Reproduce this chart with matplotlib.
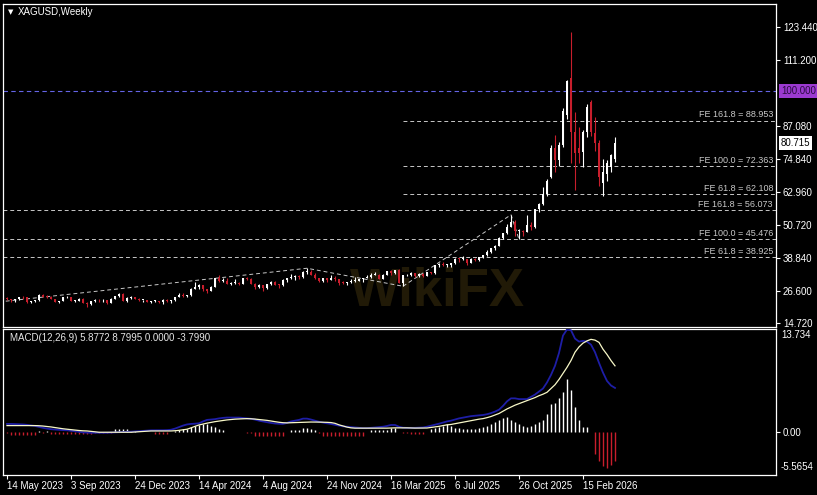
import numpy as np
import pandas as pd
import matplotlib
matplotlib.use('Agg')
import matplotlib.pyplot as plt

plt.rcParams['font.family'] = ['Liberation Sans', 'DejaVu Sans']

# XAGUSD weekly bars, first bar 14 May 2023
opens = [23.9, 23.6, 23.1, 23.6, 24.3, 24.2, 22.4, 22.8, 23.1, 25.0,
         24.5, 24.3, 23.6, 22.7, 22.8, 24.2, 24.2, 23.0, 23.0, 23.7,
         22.3, 21.9, 22.8, 23.4, 23.1, 23.2, 22.3, 23.8, 24.6, 25.6,
         23.0, 24.0, 24.2, 23.8, 23.2, 23.2, 22.6, 22.8, 22.8, 22.6,
         23.4, 22.9, 23.1, 24.3, 25.2, 24.7, 25.0, 27.3, 28.0, 28.7,
         27.2, 26.5, 28.2, 31.4, 30.3, 30.4, 29.2, 29.6, 29.6, 29.1,
         31.2, 30.8, 29.2, 28.0, 28.6, 27.5, 29.0, 29.9, 28.9, 28.8,
         30.7, 31.2, 31.6, 32.2, 31.7, 33.7, 33.7, 32.5, 31.3, 30.3,
         31.3, 30.6, 31.2, 30.9, 29.5, 29.4, 29.9, 30.4, 30.4, 30.8,
         31.3, 31.8, 32.6, 32.6, 31.1, 32.5, 33.8, 33.0, 34.1, 29.6,
         32.3, 32.5, 33.1, 32.0, 32.7, 32.2, 33.4, 33.0, 36.0, 36.3,
         36.0, 36.0, 36.9, 38.4, 38.2, 38.2, 37.0, 38.3, 38.0, 39.0,
         39.7, 41.0, 42.2, 43.1, 46.0, 48.0, 50.2, 51.9, 48.6, 48.7,
         48.3, 50.6, 50.0, 56.5, 58.5, 62.0, 68.5, 79.0, 74.5, 80.0,
         91.0, 104.6, 84.8, 78.8, 77.4, 84.8, 95.8, 84.4, 80.7, 66.3,
         69.6, 71.9, 75.1]
highs = [24.3, 23.8, 23.8, 24.5, 24.6, 24.3, 23.0, 23.3, 25.3, 25.3,
         25.0, 24.6, 23.8, 23.0, 24.4, 24.8, 24.3, 23.3, 23.9, 24.0,
         22.4, 22.8, 23.7, 23.6, 23.6, 23.3, 23.9, 24.7, 25.7, 25.9,
         24.2, 24.6, 24.5, 23.9, 23.4, 23.3, 23.0, 23.2, 22.9, 23.5,
         23.5, 23.4, 24.4, 25.8, 25.7, 25.2, 27.5, 29.8, 29.2, 28.8,
         27.4, 28.5, 31.5, 32.5, 31.3, 31.5, 30.0, 30.9, 29.7, 31.3,
         31.7, 31.2, 29.5, 29.2, 28.7, 29.1, 30.2, 30.1, 29.0, 30.8,
         31.2, 32.7, 32.3, 32.4, 33.8, 34.9, 34.3, 33.0, 31.5, 31.5,
         31.5, 32.3, 32.0, 31.1, 30.1, 30.0, 30.9, 31.6, 31.1, 31.5,
         32.3, 33.0, 33.4, 32.7, 32.8, 34.0, 34.2, 34.2, 34.6, 32.4,
         32.9, 33.7, 33.3, 33.0, 33.2, 33.6, 33.7, 36.2, 36.9, 37.3,
         36.6, 37.0, 38.5, 38.6, 39.5, 38.3, 38.5, 38.6, 39.1, 39.8,
         41.5, 42.5, 43.5, 46.5, 48.0, 51.2, 54.5, 52.5, 49.3, 49.1,
         54.4, 52.0, 56.6, 59.0, 64.6, 67.5, 80.0, 83.6, 81.0, 93.8,
         104.0, 121.6, 92.0, 86.5, 85.5, 95.0, 96.5, 90.3, 82.0, 74.9,
         74.5, 76.8, 83.0]
lows = [23.3, 22.7, 22.7, 23.4, 23.8, 22.2, 22.1, 22.5, 23.0, 24.3,
        24.0, 23.5, 22.6, 22.3, 22.8, 24.0, 22.8, 22.6, 22.9, 22.2,
        20.7, 21.6, 22.5, 22.7, 22.6, 21.9, 22.2, 23.6, 24.4, 22.9,
        22.5, 23.8, 23.6, 22.9, 22.4, 22.5, 22.3, 22.5, 22.2, 21.9,
        22.6, 22.3, 23.0, 24.2, 24.3, 24.5, 24.8, 27.2, 27.3, 26.7,
        26.0, 26.4, 28.1, 30.0, 30.0, 29.1, 28.6, 29.3, 28.6, 29.0,
        30.5, 29.0, 27.4, 27.6, 26.5, 27.4, 28.8, 28.7, 27.7, 28.5,
        29.8, 31.0, 30.5, 30.9, 31.5, 32.8, 32.3, 30.9, 29.7, 29.9,
        29.7, 30.5, 30.4, 28.9, 29.2, 28.8, 29.6, 29.8, 30.1, 30.0,
        31.2, 31.5, 32.4, 30.8, 31.0, 32.4, 32.5, 32.8, 29.5, 28.3,
        31.9, 32.1, 31.8, 31.7, 31.6, 31.9, 32.8, 32.9, 35.5, 35.6,
        35.3, 35.5, 36.6, 37.2, 37.9, 36.2, 36.8, 37.6, 37.5, 38.6,
        39.5, 40.6, 41.6, 43.0, 45.5, 47.6, 50.0, 46.9, 45.5, 46.9,
        48.1, 48.8, 49.6, 55.5, 58.0, 61.5, 68.0, 70.0, 72.5, 79.5,
        89.5, 73.5, 63.5, 73.3, 71.9, 83.0, 83.5, 78.0, 65.2, 61.5,
        67.0, 70.0, 74.0]
closes = [23.6, 23.1, 23.6, 24.3, 24.2, 22.4, 22.8, 23.1, 25.0, 24.5,
          24.3, 23.6, 22.7, 22.8, 24.2, 24.2, 23.0, 23.0, 23.7, 22.3,
          21.9, 22.8, 23.4, 23.1, 23.2, 22.3, 23.8, 24.6, 25.6, 23.0,
          24.0, 24.2, 23.8, 23.2, 23.2, 22.6, 22.8, 22.8, 22.6, 23.4,
          22.9, 23.1, 24.3, 25.2, 24.7, 25.0, 27.3, 28.0, 28.7, 27.2,
          26.5, 28.2, 31.4, 30.3, 30.4, 29.2, 29.6, 29.6, 29.1, 31.2,
          30.8, 29.2, 28.0, 28.6, 27.5, 29.0, 29.9, 28.9, 28.8, 30.7,
          31.2, 31.6, 32.2, 31.7, 33.7, 33.7, 32.5, 31.3, 30.3, 31.3,
          30.6, 31.2, 30.9, 29.5, 29.4, 29.9, 30.4, 30.4, 30.8, 31.3,
          31.8, 32.6, 32.6, 31.1, 32.5, 33.8, 33.0, 34.1, 29.6, 32.3,
          32.5, 33.1, 32.0, 32.7, 32.2, 33.4, 33.0, 36.0, 36.3, 36.0,
          36.0, 36.9, 38.4, 38.2, 38.2, 37.0, 38.3, 38.0, 39.0, 39.7,
          41.0, 42.2, 43.1, 46.0, 48.0, 50.2, 51.9, 48.6, 48.7, 48.3,
          50.6, 50.0, 56.5, 58.5, 62.0, 67.0, 79.0, 74.5, 80.0, 92.5,
          103.5, 84.8, 77.0, 77.2, 84.8, 94.0, 84.8, 80.7, 68.2, 70.0,
          73.3, 76.3, 80.715]

# MACD(12,26,9) panel
macd_line = [1.12, 1.12, 1.10, 1.08, 1.05, 1.00, 0.92, 0.85, 0.72, 0.60,
             0.50, 0.42, 0.38, 0.34, 0.30, 0.28, 0.22, 0.15, 0.08, 0.00,
             -0.03, -0.05, -0.05, -0.05, -0.05, -0.05, -0.03, 0.00, 0.03, 0.06,
             0.08, 0.09, 0.12, 0.16, 0.20, 0.24, 0.27, 0.28, 0.28, 0.28,
             0.30, 0.35, 0.50, 0.70, 0.90, 1.05, 1.12, 1.15, 1.20, 1.45,
             1.65, 1.70, 1.75, 1.85, 1.92, 1.96, 1.96, 1.96, 1.96, 1.90,
             1.85, 1.80, 1.70, 1.55, 1.45, 1.35, 1.25, 1.18, 1.14, 1.12,
             1.25, 1.45, 1.55, 1.65, 1.82, 1.82, 1.70, 1.55, 1.40, 1.30,
             1.20, 1.12, 1.00, 0.90, 0.80, 0.75, 0.70, 0.65, 0.60, 0.56,
             0.56, 0.60, 0.65, 0.70, 0.75, 0.85, 0.98, 0.98, 0.75, 0.62,
             0.60, 0.60, 0.60, 0.62, 0.65, 0.75, 0.88, 1.00, 1.15, 1.30,
             1.45, 1.55, 1.70, 1.85, 1.95, 2.06, 2.15, 2.20, 2.25, 2.30,
             2.40, 2.55, 2.75, 3.00, 3.50, 4.10, 4.50, 4.50, 4.40, 4.40,
             4.40, 4.70, 5.00, 5.40, 5.80, 6.60, 7.60, 8.80, 10.50, 12.80,
             13.60, 13.50, 12.40, 12.00, 12.10, 12.00, 11.60, 10.60, 9.20, 7.90,
             6.80, 6.20, 5.8772]
signal_line = [0.90, 0.90, 0.90, 0.90, 0.90, 0.90, 0.90, 0.90, 0.88, 0.84,
               0.78, 0.72, 0.64, 0.56, 0.48, 0.42, 0.36, 0.30, 0.25, 0.21,
               0.19, 0.14, 0.08, 0.02, 0.02, 0.02, 0.02, 0.02, 0.02, 0.02,
               0.02, 0.02, 0.06, 0.09, 0.12, 0.15, 0.19, 0.19, 0.19, 0.19,
               0.19, 0.19, 0.22, 0.27, 0.34, 0.42, 0.60, 0.80, 0.98, 1.10,
               1.22, 1.32, 1.42, 1.50, 1.58, 1.65, 1.70, 1.75, 1.78, 1.80,
               1.82, 1.80, 1.76, 1.70, 1.64, 1.59, 1.50, 1.42, 1.34, 1.28,
               1.26, 1.28, 1.30, 1.33, 1.35, 1.36, 1.37, 1.37, 1.36, 1.35,
               1.33, 1.30, 1.20, 1.00, 0.85, 0.70, 0.60, 0.56, 0.56, 0.56,
               0.56, 0.56, 0.56, 0.56, 0.56, 0.56, 0.58, 0.60, 0.60, 0.60,
               0.60, 0.58, 0.57, 0.57, 0.57, 0.58, 0.65, 0.72, 0.80, 0.90,
               1.00, 1.05, 1.15, 1.25, 1.35, 1.45, 1.55, 1.65, 1.75, 1.82,
               1.95, 2.10, 2.30, 2.50, 2.80, 3.10, 3.35, 3.60, 3.80, 4.00,
               4.20, 4.40, 4.60, 4.85, 5.05, 5.30, 5.80, 6.30, 7.00, 7.80,
               8.60, 9.50, 10.60, 11.30, 11.80, 12.10, 12.30, 12.20, 11.90, 11.00,
               10.30, 9.50, 8.7995]
hist = [-0.10, -0.28, -0.28, -0.28, -0.28, -0.28, -0.28, -0.28, 0.15, -0.10,
        0.15, -0.20, -0.20, -0.20, -0.20, -0.20, -0.20, -0.20, -0.20, -0.20,
        -0.20, -0.20, -0.05, -0.05, -0.05, -0.05, -0.05, 0.40, 0.40, 0.40,
        0.40, 0.12, 0.12, 0.06, 0.06, 0.06, 0.06, -0.20, -0.20, -0.20,
        -0.20, 0.06, 0.15, 0.30, 0.40, 0.50, 0.65, 0.89, 1.00, 1.12,
        1.12, 0.89, 0.65, 0.42, 0.28, 0.10, 0.05, 0.05, 0.05, 0.03,
        -0.05, -0.10, -0.42, -0.42, -0.42, -0.42, -0.42, -0.42, -0.42, -0.42,
        0.05, 0.28, 0.28, 0.28, 0.56, 0.56, 0.42, 0.28, -0.10, -0.42,
        -0.42, -0.42, -0.42, -0.42, -0.42, -0.42, -0.42, -0.42, -0.42, -0.42,
        0.10, 0.28, 0.28, 0.28, 0.28, 0.28, 0.56, 0.56, 0.10, -0.05,
        -0.05, -0.15, -0.15, -0.15, -0.15, 0.05, 0.50, 0.56, 0.75, 0.90,
        1.10, 0.80, 0.60, 0.55, 0.45, 0.42, 0.42, 0.50, 0.56, 0.70,
        0.85, 1.10, 1.40, 1.70, 1.90, 2.00, 1.70, 1.40, 1.10, 0.80,
        0.65, 0.80, 1.12, 1.40, 1.60, 2.40, 3.80, 3.90, 4.50, 5.30,
        7.00, 5.60, 3.40, 1.70, 0.75, 0.70, 0.10, -2.80, -3.80, -4.50,
        -4.70, -4.30, -3.799]

date_labels = ['14 May 2023', '3 Sep 2023', '24 Dec 2023', '14 Apr 2024', '4 Aug 2024',
               '24 Nov 2024', '16 Mar 2025', '6 Jul 2025', '26 Oct 2025', '15 Feb 2026']
price_ticks = [14.72, 26.6, 38.84, 50.72, 62.96, 74.84, 87.08, 111.2, 123.44]

# fibonacci expansion levels (two sets) and their anchor points A-B-C
fe_names = ['FE 61.8', 'FE 100.0', 'FE 161.8', 'FE 61.8', 'FE 100.0', 'FE 161.8']
fe_levels = [38.925, 45.476, 56.073, 62.108, 72.363, 88.953]
fe1_dates = ['2022-10-02', '2024-10-20', '2025-04-06']
fe1_prices = [17.75, 34.9, 28.3]
fe2_dates = ['2025-04-06', '2025-10-12', '2025-10-26']
fe2_prices = [28.3, 54.5, 45.51]
round_level = 100.0

o = np.array(opens)
h = np.array(highs)
l = np.array(lows)
c = np.array(closes)
n = len(c)
idx = np.arange(n)
dates = pd.date_range('2023-05-14', periods=n, freq='7D')


def bar_of(d):
    return (pd.Timestamp(d) - dates[0]).days / 7


W, H = 817, 495


def rect(x0, y0, x1, y1):
    return [x0 / W, 1 - y1 / H, (x1 - x0) / W, (y1 - y0) / H]


fig = plt.figure(figsize=(W / 100, H / 100), dpi=100, facecolor='black')
ax = fig.add_axes(rect(3, 3.5, 776, 326.5))
axm = fig.add_axes(rect(3, 328.5, 776, 474.5))
xmin, xmax = -1.0, 192.25

grid_col = '#c8c8c8'
red = '#c81e2c'

for a in (ax, axm):
    a.set_facecolor('none')
    a.set_xlim(xmin, xmax)
    for s in a.spines.values():
        s.set_color('white')
        s.set_linewidth(0.9)

# faint watermark behind everything
fig.text(0.535, 0.41, 'WikiFX', fontsize=38, fontweight='bold', color='#211a07',
         ha='center', va='center', zorder=-1)

# ---- price panel
ax.set_ylim(13.55, 131.94)
bull = c >= o
cols = np.where(bull, 'white', red)
ax.vlines(idx, l, h, colors=cols, lw=0.8, zorder=3)
body_lo = np.minimum(o, c)
body_h = np.maximum(np.abs(c - o), 0.3)
ax.bar(idx, body_h, bottom=body_lo, width=0.7, color=cols, linewidth=0, zorder=4)

ax.axhline(round_level, color='#6464e6', lw=0.8, ls=(0, (4, 3)), zorder=2)
fe_start = [xmin] * 3 + [bar_of(fe2_dates[0])] * 3
for name, lev, x0 in zip(fe_names, fe_levels, fe_start):
    ax.hlines(lev, x0, xmax, colors=grid_col, lw=0.7, linestyles=(0, (4, 3)), zorder=2)
    ax.text(191.5, lev + 0.5, f'{name} = {lev:.3f}', ha='right', va='bottom',
            fontsize=6.5, color=grid_col, zorder=5)
ax.plot([bar_of(d) for d in fe1_dates], fe1_prices, color=grid_col, lw=0.7,
        ls=(0, (4, 3)), zorder=2)
ax.plot([bar_of(d) for d in fe2_dates], fe2_prices, color=grid_col, lw=0.7,
        ls=(0, (4, 3)), zorder=2)

ax.yaxis.tick_right()
ax.set_yticks(price_ticks)
ax.set_yticklabels([f'{v:.3f}' for v in price_ticks])
ax.tick_params(axis='y', colors='white', labelsize=7, length=3, width=0.8, pad=2)
ax.set_xticks([])

ax.text(1.0065, round_level, f'{round_level:.3f}', transform=ax.get_yaxis_transform(),
        ha='left', va='center', fontsize=7, color='#2a0a40', clip_on=False,
        bbox=dict(boxstyle='square,pad=0.2', fc='#9c3ad0', ec='none'))
ax.text(1.0065, c[-1], f'{c[-1]:.3f}', transform=ax.get_yaxis_transform(),
        ha='left', va='center', fontsize=7, color='black', clip_on=False,
        bbox=dict(boxstyle='square,pad=0.2', fc='white', ec='none'))

fig.text(8 / W, 1 - 12 / H, '\u25bc', fontsize=5, color='white', va='center',
         family='DejaVu Sans')
fig.text(18 / W, 1 - 12 / H, 'XAGUSD,Weekly', fontsize=7, color='white', va='center')

# ---- MACD panel
axm.set_ylim(-5.5654, 13.734)
hcols = np.where(np.array(hist) >= 0, 'white', red)
axm.vlines(idx, 0, hist, colors=hcols, lw=1.0, zorder=2)
axm.plot(idx, macd_line, color='#1e1ea6', lw=1.3, zorder=3)
axm.plot(idx, signal_line, color='#f8f8c8', lw=0.9, zorder=4)

axm.yaxis.tick_right()
axm.set_yticks([0])
axm.set_yticklabels(['0.00'])
axm.tick_params(axis='y', colors='white', labelsize=7, length=3, width=0.8, pad=2)
fig.text(781 / W, 1 - 335 / H, '13.734', fontsize=7, color='white', va='center')
fig.text(781 / W, 1 - 467 / H, '-5.5654', fontsize=7, color='white', va='center')

tick_pos = [bar_of(d) for d in date_labels]
axm.set_xticks(tick_pos)
axm.set_xticklabels(date_labels, ha='left')
axm.tick_params(axis='x', colors='white', labelsize=7, length=3, width=0.8, pad=2)

fig.text(10 / W, 1 - 338 / H,
         f'MACD(12,26,9) {macd_line[-1]:.4f} {signal_line[-1]:.4f} 0.0000 {hist[-1]:.4f}',
         fontsize=7, color='#e6e6e6', va='center')

fig.savefig('out.png', dpi=100, facecolor='black')
